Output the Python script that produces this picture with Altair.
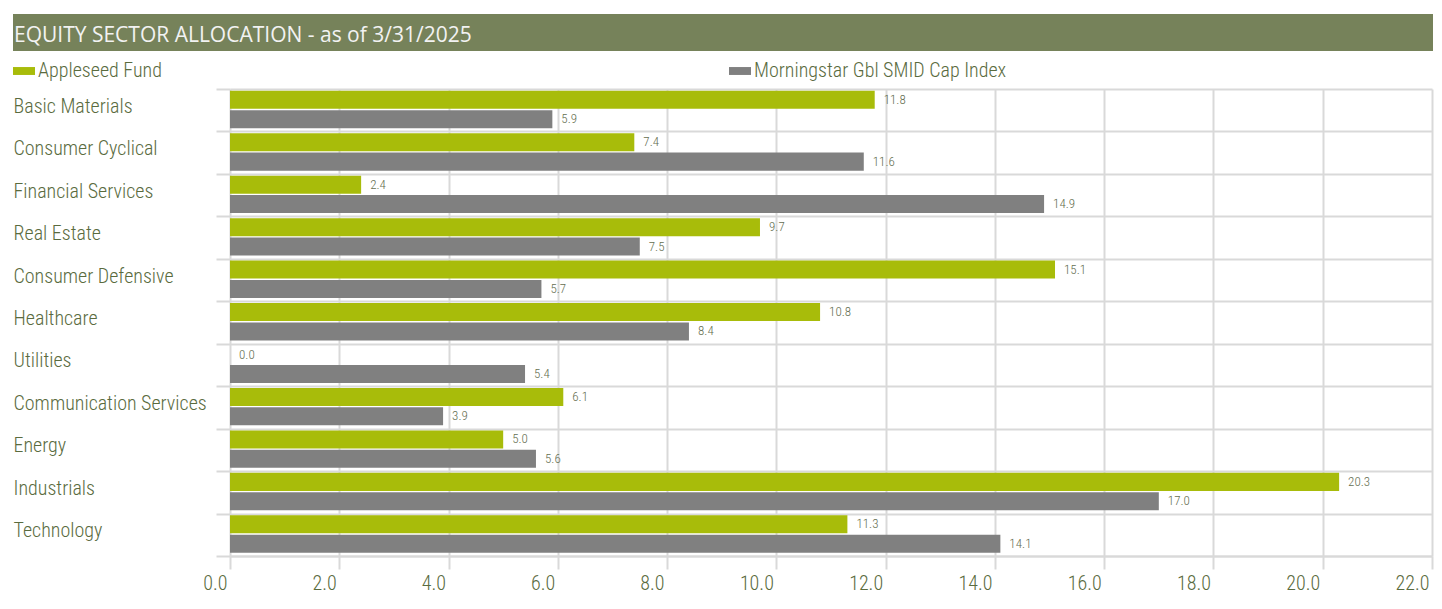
import altair as alt
import pandas as pd

# ---- data ----
sectors = ["Basic Materials", "Consumer Cyclical", "Financial Services", "Real Estate",
           "Consumer Defensive", "Healthcare", "Utilities", "Communication Services",
           "Energy", "Industrials", "Technology"]
fund_values = [11.8, 7.4, 2.4, 9.7, 15.1, 10.8, 0.0, 6.1, 5.0, 20.3, 11.3]
index_values = [5.9, 11.6, 14.9, 7.5, 5.7, 8.4, 5.4, 3.9, 5.6, 17.0, 14.1]
series_names = ["Appleseed Fund", "Morningstar Gbl SMID Cap Index"]
series_colors = ["#a8bc0a", "#808080"]
x_ticks = [0, 2, 4, 6, 8, 10, 12, 14, 16, 18, 20, 22]
title_text = "EQUITY SECTOR ALLOCATION - as of 3/31/2025"

rows = []
for s, f, i in zip(sectors, fund_values, index_values):
    rows.append({"Sector": s, "Series": series_names[0], "Value": f})
    rows.append({"Sector": s, "Series": series_names[1], "Value": i})
df = pd.DataFrame(rows)

NARROW = "Roboto Condensed, Liberation Sans Narrow, Arial Narrow, sans-serif"
OLIVE = "#5a6b3e"
GRID = "#d9d9d9"
W, H = 1202, 467

y_enc = alt.Y("Sector:N", sort=sectors, title=None,
              scale=alt.Scale(paddingInner=0, paddingOuter=0),
              axis=alt.Axis(tickBand="extent", grid=True, gridColor=GRID, gridWidth=2,
                            ticks=True, tickSize=14, tickColor=GRID, tickWidth=2,
                            domain=False, labelAlign="left", labelPadding=203,
                            labelLimit=400, labelFont=NARROW, labelFontSize=20,
                            labelFontWeight=300, labelColor=OLIVE, labelOffset=-4))
yoff_enc = alt.YOffset("Series:N", sort=series_names,
                       scale=alt.Scale(paddingInner=0.07, paddingOuter=0.13, align=0.35))

bars = alt.Chart(df).mark_bar().encode(
    x=alt.X("Value:Q", title=None,
            scale=alt.Scale(domain=[0, 22], nice=False, zero=True),
            axis=alt.Axis(values=x_ticks, format=".1f", grid=True, gridColor=GRID,
                          gridWidth=2, tickSize=13, tickColor=GRID, tickWidth=2,
                          domain=True, domainColor=GRID, domainWidth=2,
                          labelFont=NARROW, labelFontSize=20, labelFontWeight=300,
                          labelColor=OLIVE, labelPadding=4, labelFlush=False,
                          labelAlign="right", labelOffset=-3)),
    y=y_enc,
    yOffset=yoff_enc,
    color=alt.Color("Series:N", sort=series_names,
                    scale=alt.Scale(domain=series_names, range=series_colors),
                    legend=alt.Legend(title=None, orient="none", legendX=-217, legendY=-29,
                                      direction="horizontal",
                                      symbolType="M-1,-0.36H1V0.36H-1Z", symbolSize=484,
                                      symbolStrokeWidth=0, symbolOpacity=1,
                                      labelFont=NARROW, labelFontSize=20, labelFontWeight=300,
                                      labelColor=OLIVE, labelLimit=600,
                                      labelOffset=3, columnPadding=567, padding=0)),
)

labels = alt.Chart(df).mark_text(align="left", baseline="middle", dx=9,
                                 font=NARROW, fontSize=13, fontWeight=300,
                                 color="#646e50").encode(
    x=alt.X("Value:Q"),
    y=alt.Y("Sector:N", sort=sectors),
    yOffset=alt.YOffset("Series:N", sort=series_names),
    text=alt.Text("Value:Q", format=".1f"),
)

title_df = pd.DataFrame({"t": [title_text]})
title_bar = alt.Chart(title_df).mark_rect(color="#76825a").encode(
    x=alt.value(-217), x2=alt.value(1203), y=alt.value(-75), y2=alt.value(-38))
title_txt = alt.Chart(title_df).mark_text(align="left", baseline="alphabetic",
                                          font="Open Sans", fontSize=21,
                                          color="#f2f2f2").encode(
    text="t:N", x=alt.value(-216), y=alt.value(-47))

chart = alt.layer(bars, labels, title_bar, title_txt).properties(
    width=W, height=H,
    autosize=alt.AutoSizeParams(type="none"),
    padding={"left": 222, "top": 81, "right": 2, "bottom": 38},
    background="white",
).configure_view(strokeWidth=0)

chart.save("out.html", embed_options={"renderer": "svg", "actions": False})
